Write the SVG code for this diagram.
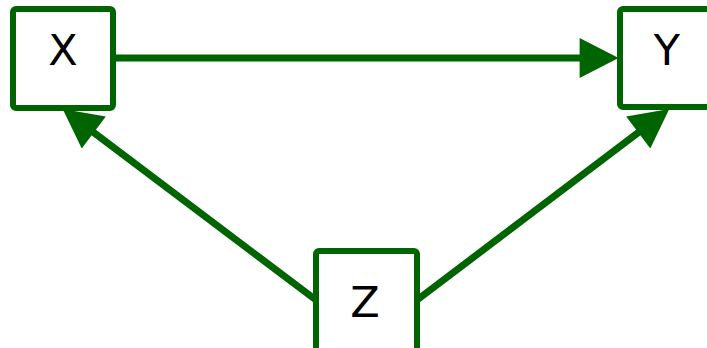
<svg xmlns="http://www.w3.org/2000/svg" width="707" height="348" viewBox="0 0 707 348">
<style>
.node rect{fill:#ffffff;stroke:#006400;stroke-width:6}
.node text{font-family:"DejaVu Sans",sans-serif;font-size:43px;fill:#000000;text-anchor:middle}
.edge{stroke:#006400;stroke-width:7;fill:none}
</style>
<defs>
<marker id="arrow" markerUnits="userSpaceOnUse" markerWidth="40" markerHeight="40" viewBox="0 0 37 38" refX="7" refY="19" orient="auto">
<path d="M0,0 L37,19 L0,38 Z" fill="#006400"/>
</marker>
</defs>
<g id="connectors">
<line class="edge" x1="113" y1="58" x2="587" y2="58" marker-end="url(#arrow)"/>
<line class="edge" x1="316" y1="300" x2="87.9" y2="128.1" marker-end="url(#arrow)"/>
<line class="edge" x1="417" y1="300" x2="644.1" y2="128.1" marker-end="url(#arrow)"/>
</g>
<g id="node-X" class="node">
<rect x="13" y="9" width="100" height="99" rx="3"/>
<text x="63" y="65">X</text>
</g>
<g id="node-Y" class="node">
<rect x="620" y="9" width="100" height="98" rx="3"/>
<text x="667" y="65">Y</text>
</g>
<g id="node-Z" class="node">
<rect x="316" y="251" width="101" height="110" rx="3"/>
<text x="365" y="317">Z</text>
</g>
</svg>
